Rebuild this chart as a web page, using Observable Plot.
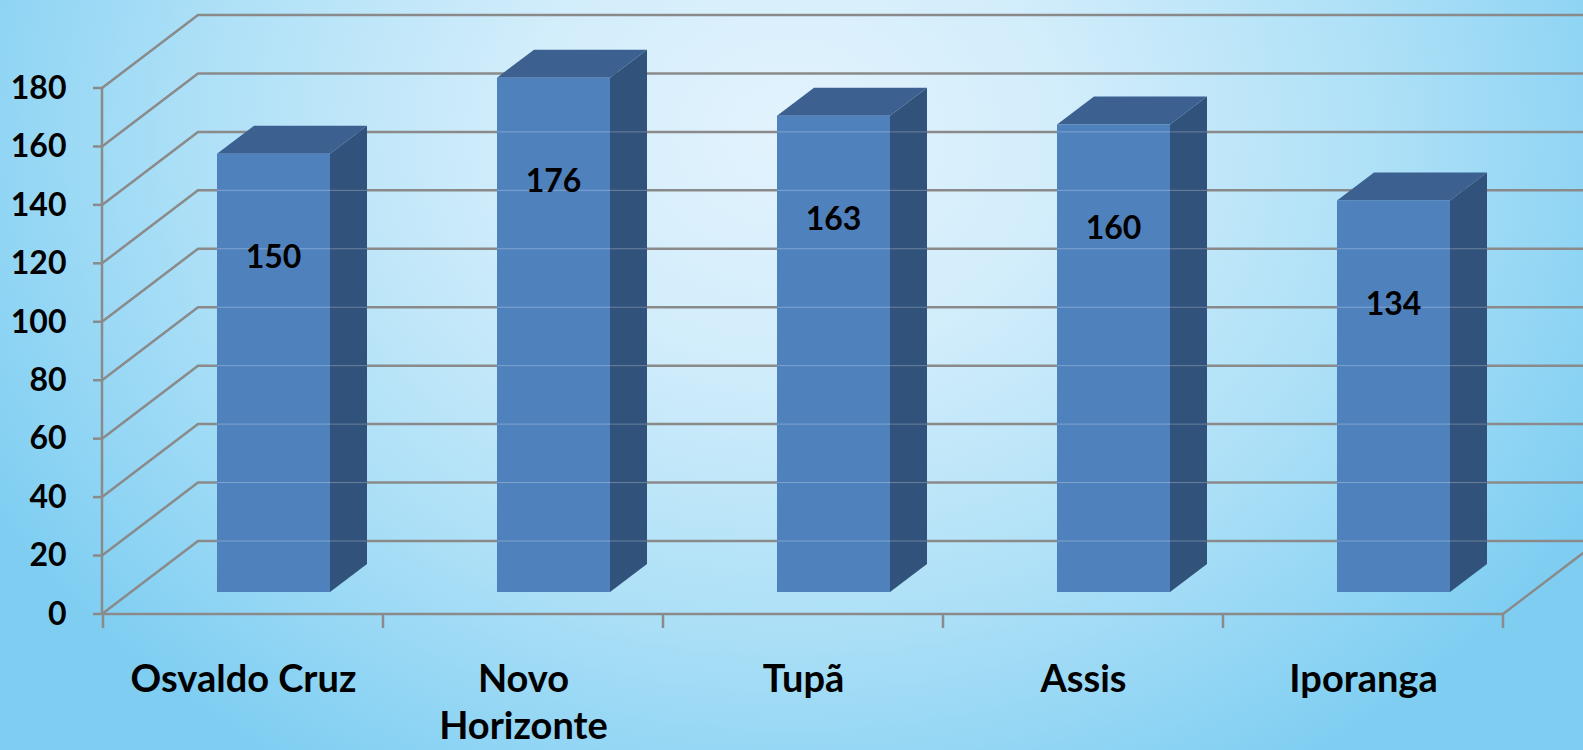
<!DOCTYPE html>
<html><head><meta charset="utf-8">
<script src="https://cdn.jsdelivr.net/npm/d3@7"></script>
<script src="https://cdn.jsdelivr.net/npm/@observablehq/plot@0.6"></script>
<style>
html,body{margin:0;padding:0;overflow:hidden;background:#9bd8f5;}
#chart svg{display:block;}
</style></head><body><div id="chart"></div>
<script>
const categories = ["Osvaldo Cruz", "Novo Horizonte", "Tupã", "Assis", "Iporanga"];
const values = [150, 176, 163, 160, 134];
const yTicks = [0, 20, 40, 60, 80, 100, 120, 140, 160, 180];

const data = categories.map((city, i) => ({city, value: values[i]}));

const W = 1583, H = 750;
const WALL = {dx: 96, dy: -73};
const BAR = {inset: 85, width: 113, fx: 29, fy: -22, bx: 37, by: -28};
const C = {front: "#4f81bd", top: "#3c6190", side: "#31527a", grid: "#8a8a8a"};

function bandOf(x) {
  return (typeof x.bandwidth === "function") ? x.bandwidth() : (x(categories[1]) - x(categories[0]));
}

function walls(index, scales, values, dims) {
  const {x, y} = scales;
  const bw = bandOf(x);
  const g = d3.create("svg:g").attr("fill", "none").attr("stroke", C.grid).attr("stroke-width", 2.5);
  const x0 = dims.marginLeft, xr = dims.width - dims.marginRight, y0 = y(0);
  for (const t of yTicks) {
    const yt = y(t);
    g.append("path").attr("d", `M${x0},${yt}L${x0 + WALL.dx},${yt + WALL.dy}H${dims.width + WALL.dx}`);
    g.append("path").attr("d", `M${x0 - 9},${yt}H${x0}`);
  }
  g.append("path").attr("d", `M${x0},${y0}V${y(yTicks[yTicks.length - 1])}`);
  g.append("path").attr("d", `M${x0},${y0}H${xr}l${WALL.dx},${WALL.dy}`);
  const bounds = categories.map(c => x(c)).concat([x(categories[categories.length - 1]) + bw]);
  for (const b of bounds) g.append("path").attr("d", `M${b},${y0}v14`);
  return g.node();
}

function bars(index, scales, values, dims) {
  const {x, y} = scales;
  const g = d3.create("svg:g");
  for (const d of data) {
    const L = x(d.city) + BAR.inset + BAR.fx, R = L + BAR.width;
    const T = y(d.value) + BAR.fy, B = y(0) + BAR.fy;
    const bx = BAR.bx, by = BAR.by;
    g.append("path").attr("fill", C.side)
      .attr("d", `M${R},${T}L${R + bx},${T + by}L${R + bx},${B + by}L${R},${B}Z`);
    g.append("path").attr("fill", C.top)
      .attr("d", `M${L},${T}L${R},${T}L${R + bx},${T + by}L${L + bx},${T + by}Z`);
    g.append("rect").attr("fill", C.front)
      .attr("x", L).attr("y", T).attr("width", R - L).attr("height", B - T);
    for (const t of yTicks) {
      const yb = y(t) + WALL.dy;
      if (yb > T + 2 && yb < B + by - 2) {
        g.append("line").attr("x1", L).attr("x2", R + bx).attr("y1", yb).attr("y2", yb)
          .attr("stroke", "#ffffff").attr("stroke-opacity", 0.28).attr("stroke-width", 1);
      }
    }
  }
  return g.node();
}

const chart = Plot.plot({
  width: W,
  height: H,
  marginLeft: 102,
  marginRight: 80,
  marginTop: 88,
  marginBottom: 136,
  style: {
    fontFamily: "Lato, 'Open Sans', sans-serif",
    color: "black",
    overflow: "hidden",
    background: "radial-gradient(ellipse 58% 100% at 50% 18%, #e3f3fd 0%, #d2edfb 30%, #ade0f7 65%, #7fcef2 100%)"
  },
  x: {type: "band", domain: categories, padding: 0, axis: null},
  y: {domain: [0, 180], axis: null},
  marks: [
    walls,
    bars,
    Plot.text(data, {
      x: "city", y: "value", text: d => String(d.value),
      dx: 30, dy: 82, fontSize: 32, fontWeight: "bold", fill: "black"
    }),
    Plot.text(categories, {
      x: d => d, frameAnchor: "bottom", lineAnchor: "top", dy: 45,
      text: d => d.length > 12 ? d.replace(" ", "\n") : d,
      fontSize: 38, fontWeight: "bold", lineHeight: 1.22, fill: "black"
    }),
    Plot.axisY(yTicks, {tickSize: 0, tickPadding: 36, fontSize: 32, fontWeight: "bold", label: null})
  ]
});
document.getElementById("chart").append(chart);
</script>
</body></html>
